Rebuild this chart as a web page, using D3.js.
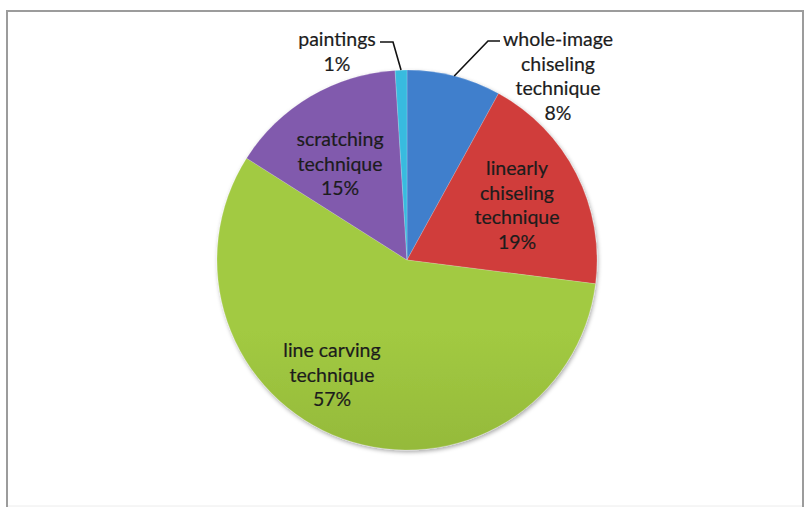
<!DOCTYPE html>
<html>
<head>
<meta charset="utf-8">
<script src="https://cdn.jsdelivr.net/npm/d3@7"></script>
<style>
  html, body { margin: 0; padding: 0; background: #fff; }
  svg { display: block; }
  text { font-family: Lato, "Open Sans", sans-serif; }
</style>
</head>
<body>
<svg id="chart" width="804" height="507"></svg>
<script>
// Share of carving techniques, clockwise from 12 o'clock
const categories = ["whole-image chiseling technique", "linearly chiseling technique",
                    "line carving technique", "scratching technique", "paintings"];
const values = [8, 19, 57, 15, 1];
const labelLines = [
  ["whole-image", "chiseling", "technique"],
  ["linearly", "chiseling", "technique"],
  ["line carving", "technique"],
  ["scratching", "technique"],
  ["paintings"]
];
// light (top) and dark (bottom) shade of each slice
const colorsTop = ["#407fcc", "#d03c3a", "#a2ca42", "#815aad", "#38bbdf"];
const colorsBottom = ["#2c65a9", "#ad2b2a", "#789729", "#67458e", "#2a9ec0"];

// layout
const cx = 407, cy = 260, r = 190;
const lineH = 24.6;
// label anchor: x center, first baseline; leader: elbow points before the arc edge
const labelLayout = [
  { x: 558, y: 46, leader: [[500, 41], [488, 41]] },
  { x: 517, y: 175 },
  { x: 332, y: 357 },
  { x: 340, y: 146 },
  { x: 337, y: 46, leader: [[380, 42], [393, 42]] }
];

const svg = d3.select("#chart");
const defs = svg.append("defs");

// chart frame
svg.append("rect")
  .attr("x", 7).attr("y", 11).attr("width", 796).attr("height", 495)
  .attr("fill", "#fff").attr("stroke", "#ececec").attr("stroke-width", 1);
svg.append("path")
  .attr("d", "M7,507 L7,11 L803,11 L803,507")
  .attr("fill", "none").attr("stroke", "#9c9c9c").attr("stroke-width", 2);

// soft drop shadow under the pie
const shadow = defs.append("filter").attr("id", "shadow")
  .attr("x", "-10%").attr("y", "-10%").attr("width", "120%").attr("height", "120%");
shadow.append("feDropShadow")
  .attr("dx", 1).attr("dy", 2).attr("stdDeviation", 2.2)
  .attr("flood-color", "#000").attr("flood-opacity", 0.35);

// vertical shading per slice
values.forEach((v, i) => {
  const g = defs.append("linearGradient").attr("id", "grad" + i)
    .attr("gradientUnits", "userSpaceOnUse")
    .attr("x1", 0).attr("y1", cy - r).attr("x2", 0).attr("y2", cy + r);
  g.append("stop").attr("offset", "0%").attr("stop-color", colorsTop[i]);
  g.append("stop").attr("offset", "100%").attr("stop-color", colorsBottom[i]);
});

const pie = d3.pie().sort(null).value(d => d)(values);
const arc = d3.arc().innerRadius(0).outerRadius(r);

const g = svg.append("g").attr("transform", `translate(${cx},${cy})`);
g.append("g").attr("filter", "url(#shadow)")
  .selectAll("path").data(pie).join("path")
  .attr("d", arc)
  .attr("fill", (d, i) => `url(#grad${i})`)
  .attr("stroke", "rgba(255,255,255,0.3)")
  .attr("stroke-width", 0.6);

// leader lines for labels placed outside the pie
pie.forEach((d, i) => {
  const L = labelLayout[i];
  if (!L.leader) return;
  const mid = (d.startAngle + d.endAngle) / 2;
  const edge = [cx + r * Math.sin(mid), cy - r * Math.cos(mid)];
  const pts = L.leader.concat([edge]);
  svg.append("path")
    .attr("d", d3.line()(pts))
    .attr("fill", "none").attr("stroke", "#111").attr("stroke-width", 1.6);
});

// data labels: name lines followed by the percentage
const fmt = d3.format(".0%");
const total = d3.sum(values);
pie.forEach((d, i) => {
  const L = labelLayout[i];
  const lines = labelLines[i].concat([fmt(d.value / total)]);
  const t = svg.append("text")
    .attr("text-anchor", "middle")
    .attr("font-size", 19.5)
    .attr("fill", "#1c1c1c")
    .attr("stroke", "#1c1c1c")
    .attr("stroke-width", 0.2);
  lines.forEach((s, k) => {
    t.append("tspan").attr("x", L.x).attr("y", L.y + k * lineH).text(s);
  });
});
</script>
</body>
</html>
